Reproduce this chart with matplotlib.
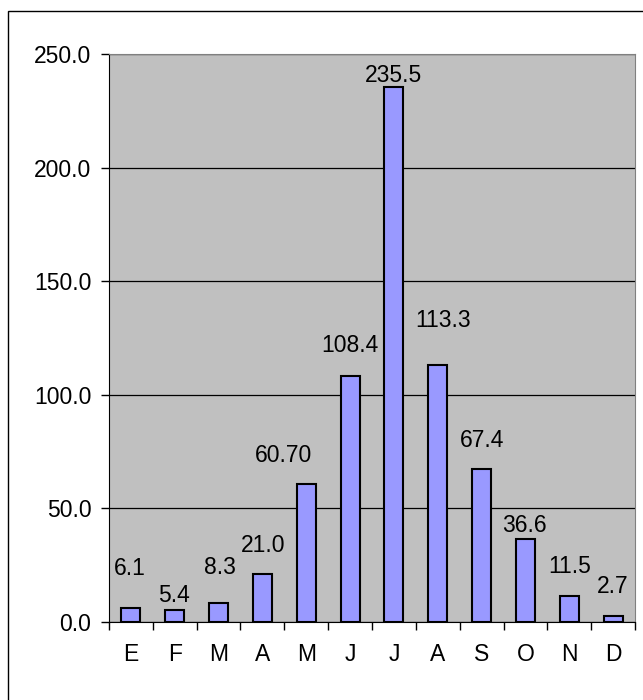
import matplotlib
matplotlib.use("Agg")
import matplotlib.pyplot as plt
from matplotlib.patches import Rectangle
import numpy as np

months = ["E", "F", "M", "A", "M", "J", "J", "A", "S", "O", "N", "D"]
values = [6.1, 5.4, 8.3, 21.0, 60.70, 108.4, 235.5, 113.3, 67.4, 36.6, 11.5, 2.7]
labels = ["6.1", "5.4", "8.3", "21.0", "60.70", "108.4", "235.5", "113.3", "67.4", "36.6", "11.5", "2.7"]
yticks = [0, 50, 100, 150, 200, 250]

# label offsets (points) mimicking the original label placement
lab_dx = [-0.7, -0.7, 1.0, 0.7, -16.5, 0, 0, 3.6, 0, -1.0, 0.4, 0]
lab_dy = [23.8, 5.8, 20.9, 15.8, 15.8, 17.3, 3.6, 27.4, 15.8, 5.0, 16.6, 16.6]

plt.rcParams['font.family'] = ['Liberation Sans', 'DejaVu Sans']
FS = 16.5

fig = plt.figure(figsize=(6.43, 7.0), dpi=100)
fig.patch.set_facecolor('white')
fig.patches.append(Rectangle((8/643, -0.05), 1.2, 1 - 10.5/700 + 0.05, transform=fig.transFigure,
                             fill=False, edgecolor='black', linewidth=1.0))

ax = fig.add_axes([109/643, 78/700, 526/643, 567.7/700])
ax.set_facecolor('#C0C0C0')
x = np.arange(len(values))
ax.bar(x, values, width=0.43, color='#9999FF', edgecolor='black', linewidth=1.5, zorder=3)

ax.set_xlim(-0.5, len(values) - 0.5)
ax.set_ylim(0, 250)
ax.set_yticks(yticks)
ax.set_yticklabels([f"{v:.1f}" for v in yticks], fontsize=FS)
ax.yaxis.grid(True, color='black', linewidth=0.9, zorder=1)
ax.set_axisbelow(True)

ax.set_xticks(x)
ax.set_xticklabels(months, fontsize=FS)
ax.tick_params(axis='x', length=0, pad=15)
ax.set_xticks(np.arange(-0.5, len(values), 1.0), minor=True)
ax.tick_params(axis='x', which='minor', length=5.5, width=1, color='black', direction='out')
ax.tick_params(axis='y', length=5.8, width=1, color='black', direction='out', pad=7)

for s in ['top', 'right']:
    ax.spines[s].set_color('#808080')
for s in ['left', 'bottom']:
    ax.spines[s].set_color('black')

for i, (v, lab) in enumerate(zip(values, labels)):
    ax.annotate(lab, (i, v), xytext=(lab_dx[i], lab_dy[i]), textcoords='offset points',
                ha='center', va='baseline', fontsize=FS, zorder=4)

fig.savefig("out.png", dpi=100)
